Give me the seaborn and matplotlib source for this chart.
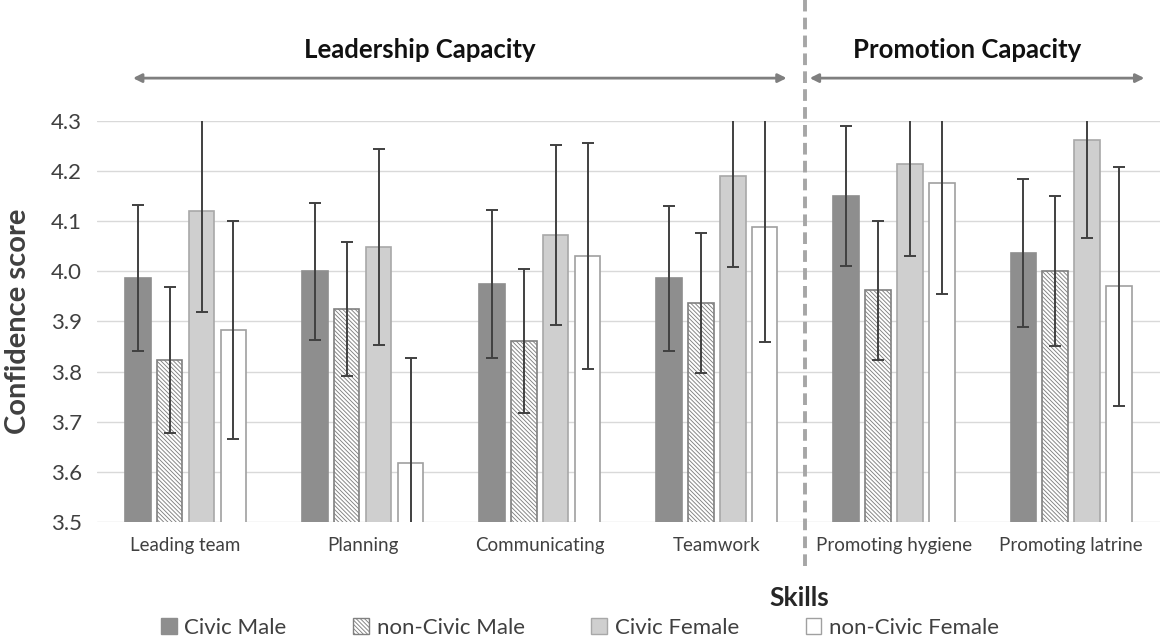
import numpy as np
import pandas as pd
import matplotlib
matplotlib.use("Agg")
import matplotlib.pyplot as plt
import seaborn as sns
from matplotlib.patches import Patch

# ==================== DATA ====================
skills = ["Leading team", "Planning", "Communicating", "Teamwork",
          "Promoting hygiene", "Promoting latrine"]
groups = ["Civic Male", "non-Civic Male", "Civic Female", "non-Civic Female"]

civic_male       = [3.987, 4.000, 3.975, 3.986, 4.151, 4.037]
non_civic_male   = [3.823, 3.925, 3.861, 3.937, 3.962, 4.001]
civic_female     = [4.120, 4.049, 4.073, 4.191, 4.215, 4.262]
non_civic_female = [3.883, 3.618, 4.031, 4.089, 4.177, 3.970]

err_civic_male       = [0.146, 0.137, 0.147, 0.145, 0.140, 0.148]
err_non_civic_male   = [0.146, 0.133, 0.143, 0.140, 0.139, 0.150]
err_civic_female     = [0.202, 0.196, 0.180, 0.182, 0.184, 0.195]
err_non_civic_female = [0.217, 0.209, 0.225, 0.230, 0.222, 0.239]

yticks = [3.5, 3.6, 3.7, 3.8, 3.9, 4.0, 4.1, 4.2, 4.3]

# ==================== STYLE ====================
fills   = ["#8e8e8e", "#ffffff", "#cfcfcf", "#ffffff"]
edges   = ["#8e8e8e", "#808080", "#a8a8a8", "#a0a0a0"]
hatches = [None, "\\" * 8, None, None]

sns.set_style("white")
plt.rcParams["font.family"] = ["Lato", "DejaVu Sans"]
plt.rcParams["hatch.linewidth"] = 0.65

df = pd.DataFrame({
    "skill": skills * 4,
    "group": np.repeat(groups, len(skills)),
    "score": civic_male + non_civic_male + civic_female + non_civic_female,
})
errs = [err_civic_male, err_non_civic_male, err_civic_female, err_non_civic_female]

fig = plt.figure(figsize=(11.69, 6.42), dpi=100)
ax = fig.add_axes([0.083, 0.187, 0.909, 0.6245])

sns.barplot(data=df, x="skill", y="score", hue="group", order=skills,
            hue_order=groups, palette=fills, width=0.72, gap=0.2,
            legend=False, ax=ax, errorbar=None, zorder=2)

for cont, fc, ec, h, e in zip(ax.containers, fills, edges, hatches, errs):
    xs, ys = [], []
    for bar in cont:
        bar.set_facecolor(fc)
        bar.set_edgecolor(ec)
        bar.set_linewidth(1.2)
        if h:
            bar.set_hatch(h)
        xs.append(bar.get_x() + bar.get_width() / 2)
        ys.append(bar.get_height())
    ax.errorbar(xs, ys, yerr=e, fmt="none", ecolor="#404040",
                elinewidth=1.4, capsize=4, capthick=1.4, zorder=3)

ax.set_ylim(3.5, 4.3)
ax.set_yticks(yticks)
ax.set_yticklabels([f"{v:.1f}" for v in yticks], fontsize=16, color="#404040")
ax.set_xlim(-0.5, len(skills) - 0.5)
ax.tick_params(axis="x", labelsize=13.5, colors="#404040", length=0, pad=11)
ax.tick_params(axis="y", length=0, pad=11)
ax.grid(axis="y", color="#d9d9d9", lw=1, zorder=0)
ax.set_axisbelow(True)
for s in ax.spines.values():
    s.set_visible(False)

ax.set_ylabel("Confidence score", fontsize=21, fontweight="bold", color="#404040")
ax.yaxis.set_label_coords(-0.062, 0.5)
ax.set_xlabel("Skills", fontsize=19, fontweight="bold", color="#262626")
ax.xaxis.set_label_coords(0.661, -0.16)

# section divider and headers
ax.plot([3.5, 3.5], [-0.11, 1.31], transform=ax.get_xaxis_transform(),
        color="#a6a6a6", lw=2.8, ls=(0, (3, 1.6)), clip_on=False, zorder=1)

arrow_kw = dict(arrowstyle="<|-|>,head_length=0.5,head_width=0.25",
                color="#7f7f7f", lw=2, shrinkA=0, shrinkB=0)
ax.annotate("", xy=(-0.297, 1.107), xytext=(3.394, 1.107),
            xycoords=ax.get_xaxis_transform(), arrowprops=arrow_kw)
ax.annotate("", xy=(3.524, 1.107), xytext=(5.414, 1.107),
            xycoords=ax.get_xaxis_transform(), arrowprops=arrow_kw)
ax.text(1.323, 1.177, "Leadership Capacity", transform=ax.get_xaxis_transform(),
        ha="center", va="center", fontsize=18.5, fontweight="bold", color="#111111")
ax.text(4.415, 1.177, "Promotion Capacity", transform=ax.get_xaxis_transform(),
        ha="center", va="center", fontsize=18.5, fontweight="bold", color="#111111")

handles = [Patch(facecolor=fc, edgecolor=ec, hatch=h, linewidth=1)
           for fc, ec, h in zip(fills, edges, hatches)]
fig.legend(handles, groups, loc="center", bbox_to_anchor=(580 / 1169, 1 - 628 / 642),
           ncol=4, frameon=False, fontsize=16, handlelength=0.7, handleheight=0.7,
           handletextpad=0.35, columnspacing=3.0, labelcolor="#404040")

fig.savefig("out.png", dpi=100)
